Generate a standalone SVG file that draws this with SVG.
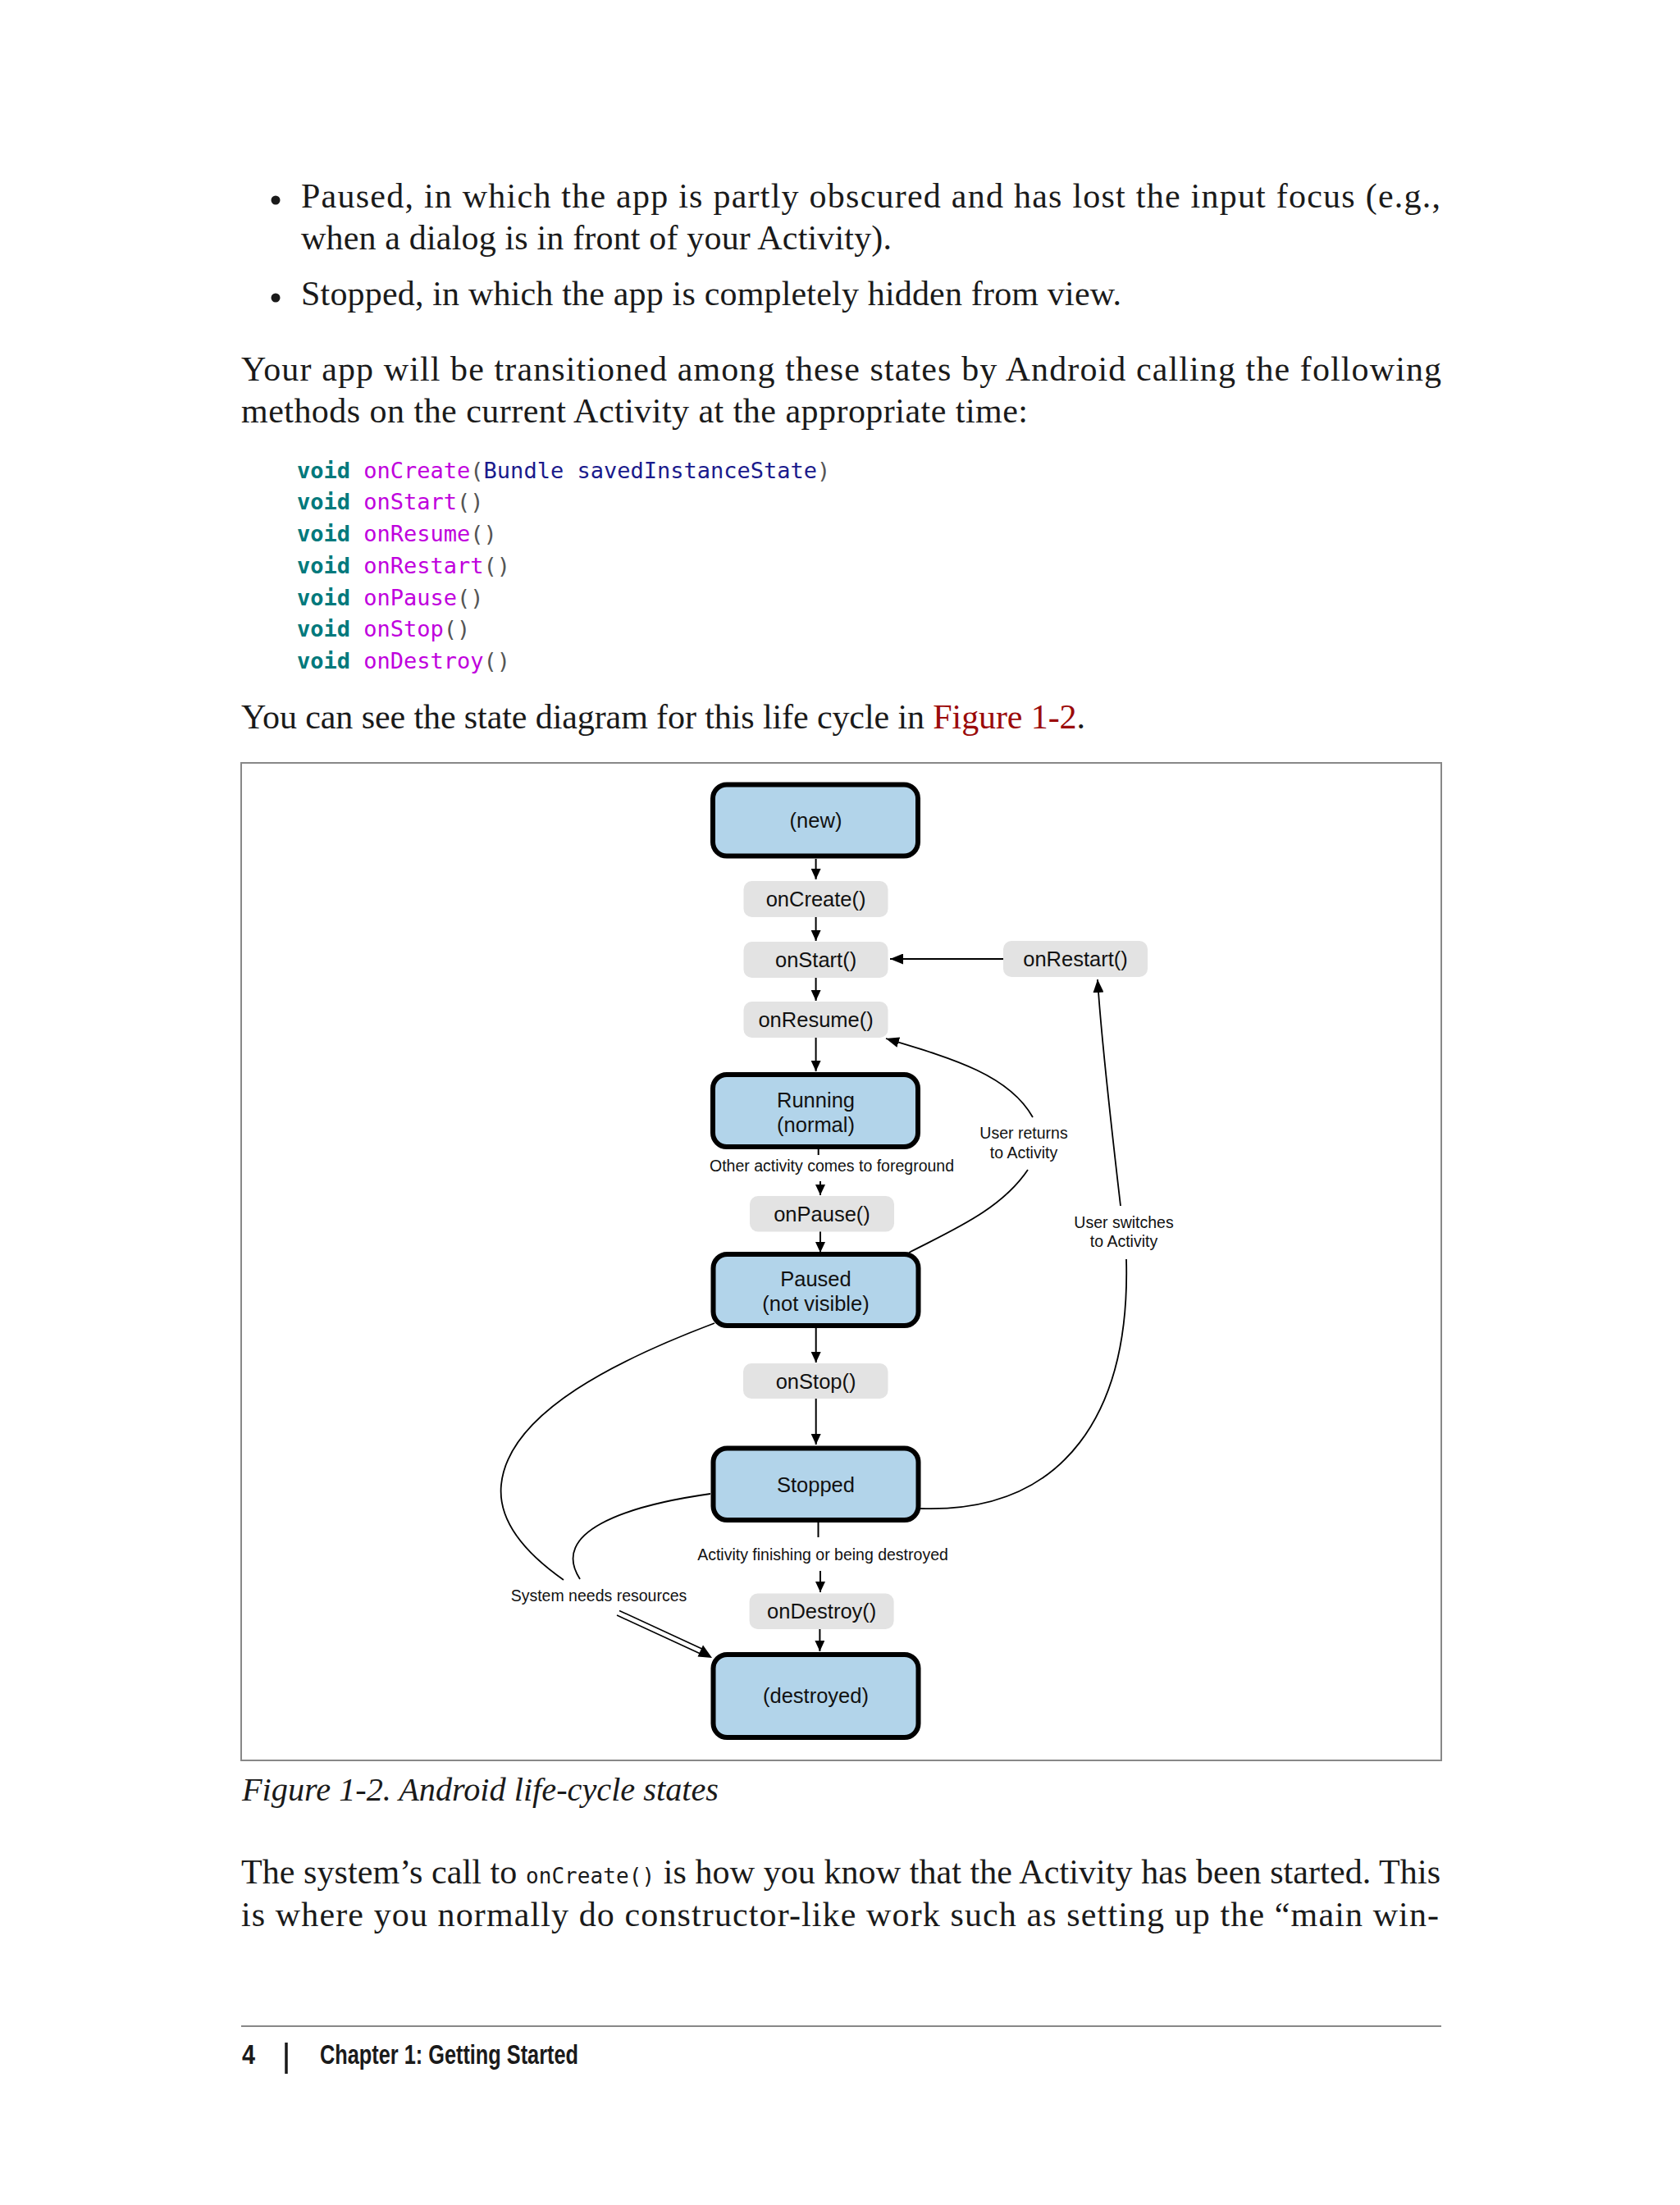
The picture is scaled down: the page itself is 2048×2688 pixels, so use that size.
<svg xmlns="http://www.w3.org/2000/svg" width="2048" height="2688" viewBox="0 0 2048 2688">
<defs>
<style>
.body{font-family:"Liberation Serif","Times New Roman",serif;font-size:42px;fill:#1a1a1a}
.cap{font-family:"Liberation Serif","Times New Roman",serif;font-size:40px;font-style:italic;fill:#1a1a1a}
.code{font-family:"DejaVu Sans Mono","Liberation Mono",monospace;font-size:27px}
.kw{fill:#00797c;font-weight:bold}
.fn{fill:#c000dd}
.ty{fill:#1a1a8c}
.pa{fill:#555}
.state{fill:#b2d4ea;stroke:#000;stroke-width:6}
.meth{fill:#e3e3e3;stroke:none}
.nt{font-family:"Liberation Sans",Arial,sans-serif;font-size:25.5px;fill:#111;text-anchor:middle}
.lt{font-family:"Liberation Sans",Arial,sans-serif;font-size:19.5px;fill:#111;text-anchor:middle}
.ln{fill:none;stroke:#000;stroke-width:2}
.cv{fill:none;stroke:#000;stroke-width:1.8}
</style>
<marker id="ah" markerUnits="userSpaceOnUse" markerWidth="13" markerHeight="12" refX="13" refY="6" orient="auto">
<path d="M0,0 L13,6 L0,12 z" fill="#000"/>
</marker>
<marker id="ah2" markerUnits="userSpaceOnUse" markerWidth="16" markerHeight="13" refX="16" refY="6.5" orient="auto">
<path d="M0,0 L16,6.5 L0,13 z" fill="#000"/>
</marker>
</defs>
<rect width="2048" height="2688" fill="#fff"/>

<g id="page-text">
<circle cx="336" cy="244" r="5.5" fill="#1a1a1a"/>
<text class="body" x="367" y="253" textLength="1389" lengthAdjust="spacing">Paused, in which the app is partly obscured and has lost the input focus (e.g.,</text>
<text class="body" x="367" y="304" textLength="720" lengthAdjust="spacing">when a dialog is in front of your Activity).</text>
<circle cx="336" cy="363" r="5.5" fill="#1a1a1a"/>
<text class="body" x="367" y="372" textLength="1000" lengthAdjust="spacing">Stopped, in which the app is completely hidden from view.</text>
<text class="body" x="294" y="464" textLength="1463" lengthAdjust="spacing">Your app will be transitioned among these states by Android calling the following</text>
<text class="body" x="294" y="515" textLength="959" lengthAdjust="spacing">methods on the current Activity at the appropriate time:</text>

<text class="code" x="362" y="583"><tspan class="kw">void</tspan> <tspan class="fn">onCreate</tspan><tspan class="pa">(</tspan><tspan class="ty">Bundle savedInstanceState</tspan><tspan class="pa">)</tspan></text>
<text class="code" x="362" y="621"><tspan class="kw">void</tspan> <tspan class="fn">onStart</tspan><tspan class="pa">()</tspan></text>
<text class="code" x="362" y="660"><tspan class="kw">void</tspan> <tspan class="fn">onResume</tspan><tspan class="pa">()</tspan></text>
<text class="code" x="362" y="699"><tspan class="kw">void</tspan> <tspan class="fn">onRestart</tspan><tspan class="pa">()</tspan></text>
<text class="code" x="362" y="738"><tspan class="kw">void</tspan> <tspan class="fn">onPause</tspan><tspan class="pa">()</tspan></text>
<text class="code" x="362" y="776"><tspan class="kw">void</tspan> <tspan class="fn">onStop</tspan><tspan class="pa">()</tspan></text>
<text class="code" x="362" y="815"><tspan class="kw">void</tspan> <tspan class="fn">onDestroy</tspan><tspan class="pa">()</tspan></text>

<text class="body" x="294" y="888" textLength="1029" lengthAdjust="spacing">You can see the state diagram for this life cycle in <tspan fill="#9b0a0a">Figure 1-2</tspan>.</text>

<rect x="294" y="930" width="1463" height="1216" fill="none" stroke="#888" stroke-width="2"/>

<text class="cap" x="295" y="2195" textLength="581" lengthAdjust="spacingAndGlyphs">Figure 1-2. Android life-cycle states</text>

<text class="body" x="294" y="2296" textLength="1462" lengthAdjust="spacing">The system’s call to <tspan font-family="DejaVu Sans Mono, Liberation Mono, monospace" font-size="26">onCreate()</tspan> is how you know that the Activity has been started. This</text>
<text class="body" x="294" y="2348" textLength="1460" lengthAdjust="spacing">is where you normally do constructor-like work such as setting up the “main win-</text>

<line x1="294" y1="2470" x2="1757" y2="2470" stroke="#888" stroke-width="2"/>
<text x="295" y="2516" font-family="Liberation Sans, Arial, sans-serif" font-weight="bold" font-size="34" fill="#1a1a1a" textLength="16" lengthAdjust="spacingAndGlyphs">4</text>
<line x1="349" y1="2490" x2="349" y2="2528" stroke="#1a1a1a" stroke-width="3.5"/>
<text x="390" y="2516" font-family="Liberation Sans, Arial, sans-serif" font-weight="bold" font-size="34" fill="#1a1a1a" textLength="315" lengthAdjust="spacingAndGlyphs">Chapter 1: Getting Started</text>
</g>

<g id="connectors">
<line class="ln" x1="994.6" y1="1047" x2="994.6" y2="1072" marker-end="url(#ah)"/>
<line class="ln" x1="994.6" y1="1118" x2="994.6" y2="1147" marker-end="url(#ah)"/>
<line class="ln" x1="994.6" y1="1192" x2="994.6" y2="1220" marker-end="url(#ah)"/>
<line class="ln" x1="994.6" y1="1265" x2="994.6" y2="1306" marker-end="url(#ah)"/>
<line class="ln" x1="997.7" y1="1401" x2="997.7" y2="1408"/>
<line class="ln" x1="1000" y1="1440" x2="1000" y2="1457" marker-end="url(#ah)"/>
<line class="ln" x1="1000" y1="1501" x2="1000" y2="1527" marker-end="url(#ah)"/>
<line class="ln" x1="994.7" y1="1619" x2="994.7" y2="1661" marker-end="url(#ah)"/>
<line class="ln" x1="994.7" y1="1705" x2="994.7" y2="1761" marker-end="url(#ah)"/>
<line class="ln" x1="997.5" y1="1856" x2="997.5" y2="1874"/>
<line class="ln" x1="1000" y1="1915" x2="1000" y2="1941" marker-end="url(#ah)"/>
<line class="ln" x1="999.4" y1="1986" x2="999.4" y2="2013" marker-end="url(#ah)"/>
<line class="ln" x1="1223" y1="1169" x2="1085" y2="1169" marker-end="url(#ah2)"/>
<path class="cv" d="M1259,1362 C1230,1310 1160,1290 1080,1266" marker-end="url(#ah2)"/>
<path class="cv" d="M1253,1426 C1220,1475 1160,1500 1108,1527"/>
<path class="cv" d="M1366,1470 C1352,1350 1342,1260 1338,1194" marker-end="url(#ah2)"/>
<path class="cv" d="M1373,1535 C1378,1720 1300,1845 1122,1839"/>
<path class="cv" d="M871,1613 C760,1655 620,1720 611,1810 C606,1860 650,1900 687,1926"/>
<path class="cv" d="M866,1821 C760,1836 670,1868 707,1925"/>
<line x1="752" y1="1969" x2="856" y2="2017" stroke="#000" stroke-width="1.6"/>
<line x1="755" y1="1963.5" x2="859" y2="2011.5" stroke="#000" stroke-width="1.6"/>
<path d="M868,2021 L850.5,2019.5 L857,2005.5 z" fill="#000"/>
</g>

<g id="node-new">
<rect class="state" x="869" y="956.5" width="250" height="87" rx="17"/>
<text class="nt" x="994.5" y="1009">(new)</text>
</g>
<g id="node-onCreate">
<rect class="meth" x="906.5" y="1074" width="176" height="44" rx="10"/>
<text class="nt" x="994.6" y="1105">onCreate()</text>
</g>
<g id="node-onStart">
<rect class="meth" x="906.5" y="1148" width="176" height="44" rx="10"/>
<text class="nt" x="994.6" y="1179">onStart()</text>
</g>
<g id="node-onRestart">
<rect class="meth" x="1223" y="1147" width="176" height="44" rx="10"/>
<text class="nt" x="1311" y="1178">onRestart()</text>
</g>
<g id="node-onResume">
<rect class="meth" x="906.5" y="1221" width="176" height="44" rx="10"/>
<text class="nt" x="994.6" y="1252">onResume()</text>
</g>
<g id="node-running">
<rect class="state" x="869" y="1310" width="250" height="88" rx="17"/>
<text class="nt" x="994.5" y="1350">Running</text>
<text class="nt" x="994.5" y="1380">(normal)</text>
</g>
<g id="label-other">
<text class="lt" x="1014" y="1428">Other activity comes to foreground</text>
</g>
<g id="node-onPause">
<rect class="meth" x="914" y="1458" width="176" height="43.5" rx="10"/>
<text class="nt" x="1002" y="1489">onPause()</text>
</g>
<g id="node-paused">
<rect class="state" x="869.5" y="1529" width="250" height="87" rx="17"/>
<text class="nt" x="994.5" y="1568">Paused</text>
<text class="nt" x="994.5" y="1598">(not visible)</text>
</g>
<g id="node-onStop">
<rect class="meth" x="906" y="1662" width="176.5" height="43" rx="10"/>
<text class="nt" x="994.6" y="1693">onStop()</text>
</g>
<g id="node-stopped">
<rect class="state" x="869.5" y="1765.5" width="250" height="87.5" rx="17"/>
<text class="nt" x="994.5" y="1819">Stopped</text>
</g>
<g id="label-finishing">
<text class="lt" x="1003" y="1902">Activity finishing or being destroyed</text>
</g>
<g id="node-onDestroy">
<rect class="meth" x="913.6" y="1942.5" width="176" height="43.5" rx="10"/>
<text class="nt" x="1001.7" y="1973">onDestroy()</text>
</g>
<g id="node-destroyed">
<rect class="state" x="869.5" y="2017" width="250" height="101" rx="17"/>
<text class="nt" x="994.5" y="2076">(destroyed)</text>
</g>
<g id="label-user-returns">
<text class="lt" x="1248" y="1388">User returns</text>
<text class="lt" x="1248" y="1411.5">to Activity</text>
</g>
<g id="label-user-switches">
<text class="lt" x="1370" y="1497">User switches</text>
<text class="lt" x="1370" y="1520">to Activity</text>
</g>
<g id="label-system">
<text class="lt" x="730" y="1952">System needs resources</text>
</g>
</svg>
